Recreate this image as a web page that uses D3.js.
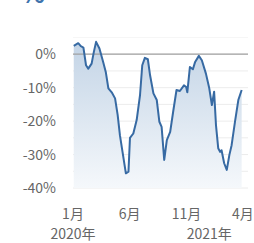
<!DOCTYPE html>
<html>
<head>
<meta charset="utf-8">
<script src="https://cdn.jsdelivr.net/npm/d3@7"></script>
<style>
  body { margin: 0; background: #fff; }
  svg text { font-family: "Noto Sans CJK JP", "Noto Sans", sans-serif; fill: #666; }
</style>
</head>
<body>
<svg id="chart" width="254" height="243"></svg>
<script>
// weekly-ish change vs. previous year, in percent
var dates = ['2020-01-03','2020-01-15','2020-01-22','2020-01-29','2020-02-05','2020-02-11','2020-02-20','2020-02-26',
  '2020-03-03','2020-03-12','2020-03-22','2020-03-29','2020-04-05','2020-04-14','2020-04-23','2020-04-30',
  '2020-05-06','2020-05-13','2020-05-22','2020-05-29','2020-06-02','2020-06-11','2020-06-20','2020-06-29',
  '2020-07-05','2020-07-12','2020-07-20','2020-07-26','2020-08-04','2020-08-13','2020-08-20','2020-08-26',
  '2020-09-02','2020-09-09','2020-09-18','2020-09-26','2020-10-05','2020-10-14','2020-10-25','2020-10-31',
  '2020-11-03','2020-11-10','2020-11-18','2020-11-24','2020-12-04','2020-12-12','2020-12-23','2021-01-01',
  '2021-01-08','2021-01-14','2021-01-19','2021-01-25','2021-01-30','2021-02-03','2021-02-10','2021-02-17',
  '2021-02-24','2021-03-02','2021-03-11','2021-03-20','2021-03-29'];
var values = [2.5, 3.3, 2.4, 2.0, -3.3, -4.3, -2.8, 0.7,
  3.7, 1.7, -2.3, -5.3, -10.2, -11.4, -13.2, -18.2,
  -24.2, -29.2, -35.6, -35.1, -25.0, -23.7, -19.7, -12.2,
  -3.3, -1.1, -1.5, -6.3, -11.7, -13.7, -20.2, -21.7,
  -31.6, -25.7, -23.2, -17.2, -10.7, -11.0, -9.3, -9.8,
  -11.4, -3.8, -4.5, -2.3, -0.5, -1.8, -5.8, -10.2,
  -15.2, -11.2, -21.2, -28.1, -29.2, -28.7, -32.6, -34.6,
  -30.1, -27.2, -20.2, -13.7, -10.7];
var yTicks = [0, -10, -20, -30, -40];
var gridValues = [5, 0, -5, -10, -15, -20, -25, -30, -35, -40];
var monthTicks = ['2020-01-01', '2020-06-01', '2020-11-01', '2021-04-01'];
var yearTicks = [['2020-01-01', '2020年'], ['2021-01-01', '2021年']];

var parse = d3.timeParse('%Y-%m-%d');
var data = dates.map(function (d, i) { return { date: parse(d), value: values[i] }; });

var svg = d3.select('#chart');
var plotLeft = 73, plotRight = 248, plotTop = 37.5, plotBottom = 188;

var x = d3.scaleTime()
  .domain([parse('2020-01-01'), parse('2021-04-15')])
  .range([plotLeft, plotRight]);
var y = d3.scaleLinear().domain([-40, 5]).range([plotBottom, plotTop]);

// gradient for the area under the line
var grad = svg.append('defs').append('linearGradient')
  .attr('id', 'fade').attr('x1', 0).attr('y1', 0).attr('x2', 0).attr('y2', 1);
grad.append('stop').attr('offset', '0%').attr('stop-color', '#c3d4e6');
grad.append('stop').attr('offset', '100%').attr('stop-color', '#f5f8fb');

// cut-off title at the top
svg.append('text')
  .attr('x', 20).attr('y', 3)
  .style('font-size', '26px').style('font-weight', 'bold').style('fill', '#3f74ad')
  .text('%');

svg.append('g').selectAll('line')
  .data(gridValues)
  .enter().append('line')
  .attr('x1', plotLeft).attr('x2', plotRight)
  .attr('y1', function (d) { return y(d); })
  .attr('y2', function (d) { return y(d); })
  .attr('stroke', function (d) { return d === 5 ? '#f6f6f6' : '#ececec'; })
  .attr('stroke-width', 1);

var area = d3.area()
  .x(function (d) { return x(d.date); })
  .y0(plotBottom)
  .y1(function (d) { return y(d.value); });

var line = d3.line()
  .x(function (d) { return x(d.date); })
  .y(function (d) { return y(d.value); });

svg.append('path').datum(data).attr('d', area).attr('fill', 'url(#fade)');

// zero line drawn on top of the fill
svg.append('line')
  .attr('x1', plotLeft).attr('x2', plotRight)
  .attr('y1', y(0)).attr('y2', y(0))
  .attr('stroke', '#a0a0a0').attr('stroke-width', 1.2);

svg.append('path').datum(data)
  .attr('d', line)
  .attr('fill', 'none')
  .attr('stroke', '#376aa3')
  .attr('stroke-width', 2)
  .attr('stroke-linejoin', 'round');

svg.append('g').selectAll('text')
  .data(yTicks)
  .enter().append('text')
  .attr('x', 56)
  .attr('y', function (d) { return y(d) + 5; })
  .attr('text-anchor', 'end')
  .style('font-size', '14px')
  .text(function (d) { return d + '%'; });

svg.append('g').selectAll('text')
  .data(monthTicks)
  .enter().append('text')
  .attr('x', function (d) { return x(parse(d)); })
  .attr('y', 219)
  .attr('text-anchor', 'middle')
  .style('font-size', '14px')
  .text(function (d) { return d3.timeFormat('%-m')(parse(d)) + '月'; });

svg.append('g').selectAll('text')
  .data(yearTicks)
  .enter().append('text')
  .attr('x', function (d) { return x(parse(d[0])); })
  .attr('y', 239)
  .attr('text-anchor', 'middle')
  .style('font-size', '14px')
  .text(function (d) { return d[1]; });
</script>
</body>
</html>
